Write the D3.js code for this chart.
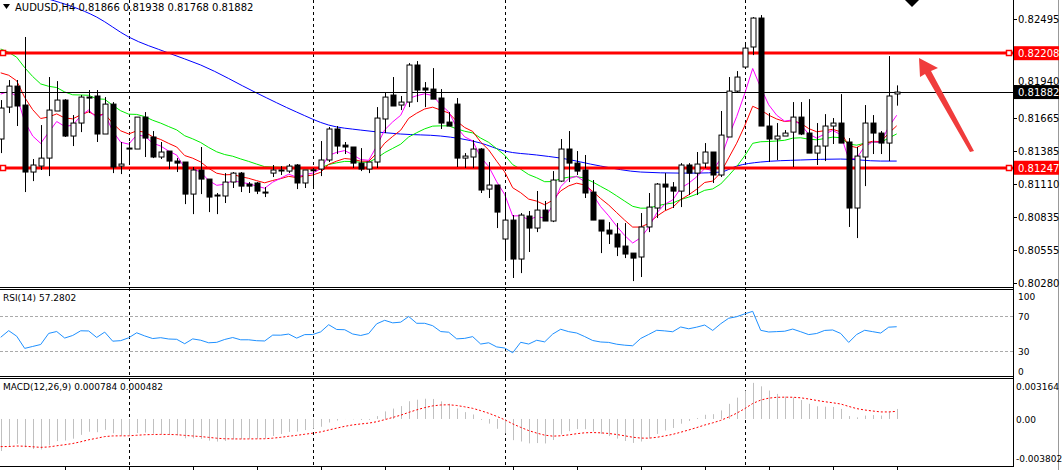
<!DOCTYPE html>
<html><head><meta charset="utf-8">
<script src="https://cdn.jsdelivr.net/npm/d3@7"></script>
<style>body{margin:0;background:#fff}svg{display:block}text{font-family:"DejaVu Sans",sans-serif}</style>
</head><body><svg id="c" width="1062" height="470"></svg>
<script>
const opens=[0.81488,0.81756,0.81932,0.81773,0.81211,0.81261,0.81328,0.81723,0.81815,0.81513,0.81622,0.81840,0.81849,0.81530,0.81781,0.81261,0.81404,0.81404,0.81672,0.81505,0.81337,0.81387,0.81303,0.81295,0.81026,0.81228,0.81152,0.81010,0.81010,0.81127,0.81202,0.81110,0.81119,0.81043,0.81202,0.81228,0.81219,0.81270,0.81119,0.81228,0.81236,0.81312,0.81572,0.81437,0.81421,0.81286,0.81236,0.81295,0.81656,0.81857,0.81773,0.81798,0.82109,0.81916,0.81907,0.81832,0.81630,0.81781,0.81328,0.81337,0.81404,0.81068,0.81102,0.80649,0.80808,0.80481,0.80842,0.80741,0.80892,0.80800,0.81135,0.81404,0.81286,0.81228,0.81043,0.80808,0.80724,0.80691,0.80590,0.80531,0.80498,0.80750,0.80909,0.81110,0.81085,0.81051,0.81270,0.81202,0.81286,0.81379,0.81186,0.81505,0.81890,0.82092,0.82260,0.82503,0.81597,0.81488,0.81513,0.81546,0.81672,0.81538,0.81370,0.81429,0.81597,0.81622,0.81463,0.80909,0.81337,0.81622,0.81538,0.81454,0.81866];
const highs=[0.81815,0.81983,0.81983,0.82344,0.81320,0.81605,0.82008,0.81974,0.81823,0.81689,0.81857,0.81899,0.81899,0.81840,0.81798,0.81463,0.81463,0.81672,0.81714,0.81555,0.81463,0.81387,0.81328,0.81295,0.81253,0.81421,0.81152,0.81035,0.81202,0.81211,0.81211,0.81127,0.81127,0.81085,0.81270,0.81261,0.81278,0.81278,0.81228,0.81245,0.81471,0.81589,0.81597,0.81463,0.81421,0.81412,0.81295,0.81756,0.81874,0.82008,0.81849,0.82125,0.82142,0.81966,0.82083,0.81907,0.81714,0.81832,0.81370,0.81479,0.81412,0.81295,0.81102,0.81035,0.80850,0.80867,0.80884,0.81052,0.80968,0.81219,0.81488,0.81555,0.81387,0.81354,0.81144,0.80808,0.80791,0.80783,0.80783,0.80531,0.80867,0.81035,0.81119,0.81202,0.81127,0.81286,0.81286,0.81379,0.81454,0.81379,0.81723,0.82008,0.82058,0.82293,0.82511,0.82528,0.81706,0.81622,0.81563,0.81798,0.81798,0.81823,0.81622,0.81697,0.81664,0.81865,0.81496,0.81421,0.81773,0.81689,0.81555,0.82184,0.81938];
const lows=[0.81370,0.81706,0.81597,0.81043,0.81135,0.81228,0.81177,0.81723,0.81505,0.81429,0.81546,0.81706,0.81463,0.81530,0.81202,0.81194,0.81286,0.81404,0.81337,0.81328,0.81320,0.81236,0.81211,0.80942,0.80858,0.81026,0.80875,0.80858,0.80951,0.81077,0.81043,0.81035,0.81026,0.81001,0.81169,0.81186,0.81202,0.81068,0.81077,0.81085,0.81177,0.81295,0.81362,0.81362,0.81245,0.81219,0.81202,0.81245,0.81538,0.81765,0.81731,0.81756,0.81798,0.81756,0.81823,0.81572,0.81597,0.81253,0.81245,0.81245,0.81035,0.80993,0.80741,0.80481,0.80322,0.80363,0.80540,0.80707,0.80800,0.80791,0.81127,0.81127,0.81186,0.80993,0.80808,0.80531,0.80607,0.80506,0.80489,0.80296,0.80330,0.80707,0.80825,0.80892,0.80909,0.80917,0.81018,0.81018,0.81245,0.81119,0.81169,0.81505,0.81874,0.82092,0.82192,0.81597,0.81295,0.81312,0.81513,0.81253,0.81521,0.81370,0.81270,0.81303,0.81446,0.81454,0.80750,0.80657,0.81093,0.81362,0.81362,0.81303,0.81768];
const closes=[0.81748,0.81932,0.81765,0.81211,0.81270,0.81328,0.81731,0.81815,0.81513,0.81622,0.81840,0.81832,0.81530,0.81781,0.81253,0.81278,0.81412,0.81672,0.81496,0.81337,0.81379,0.81303,0.81286,0.81026,0.81228,0.81152,0.81001,0.81018,0.81127,0.81202,0.81093,0.81093,0.81051,0.81040,0.81228,0.81225,0.81261,0.81119,0.81228,0.81230,0.81312,0.81572,0.81429,0.81421,0.81286,0.81236,0.81295,0.81664,0.81840,0.81765,0.81798,0.82109,0.81899,0.81899,0.81823,0.81622,0.81597,0.81328,0.81345,0.81404,0.81060,0.81102,0.80875,0.80808,0.80481,0.80850,0.80741,0.80892,0.80800,0.81144,0.81404,0.81286,0.81219,0.81035,0.80808,0.80716,0.80691,0.80582,0.80523,0.80489,0.80750,0.80917,0.81110,0.81085,0.81051,0.81270,0.81202,0.81278,0.81379,0.81186,0.81521,0.81890,0.82008,0.82251,0.82503,0.81597,0.81488,0.81513,0.81538,0.81672,0.81530,0.81370,0.81429,0.81597,0.81622,0.81454,0.80909,0.81345,0.81622,0.81538,0.81454,0.81849,0.81882];
const blueMA=[[6,0.82662],[12,0.82511],[16,0.82344],[21,0.82209],[25,0.82109],[32,0.81874],[37,0.81714],[41,0.81605],[45,0.81563],[50,0.81530],[55,0.81513],[60,0.81454],[63,0.81387],[67,0.81354],[70,0.81328],[75,0.81261],[80,0.81211],[85,0.81202],[87,0.81202],[90,0.81211],[92,0.81261],[95,0.81295],[100,0.81312],[105,0.81320],[110,0.81303],[112,0.81303]];
const priceTicks=[0.82495,0.82220,0.81940,0.81665,0.81385,0.81110,0.80835,0.80555,0.80280];
const levels=[{v:0.82208,c:"#ff0000"},{v:0.81247,c:"#ff0000"}];
const lastPrice=0.81882;
const vDash=[16,39,63,93];
const rsiTicks=[100,70,30,0];
const macdTicks=[0.003164,0,-0.003802];
const title="AUDUSD,H4  0.81866 0.81938 0.81768 0.81882";
const rsiLabel="RSI(14) 57.2802";
const macdLabel="MACD(12,26,9) 0.000784 0.000482";

const svg=d3.select("#c");
const N=closes.length, R=1013;
const x=d3.scaleLinear().domain([0,N-1]).range([0.7,896.7]);
const y=d3.scaleLinear().domain([0.80280,0.82495]).range([283,19]);
const yR=d3.scaleLinear().domain([0,100]).range([377,289.6]);
const yM=d3.scaleLinear().domain([-0.003802,0.003164]).range([467,379]);

function ema(arr,p,seed){let k=2/(p+1),e=seed;return arr.map(v=>(e=e+k*(v-e)));}
const ma5=ema(closes,5,0.81924), ma10=ema(closes,10,0.82109), ma20=ema(closes,21,0.82293);
let ag=0.00040,al=0.00048;const rsi=closes.map((c,i)=>{if(i>0){const d=c-closes[i-1];ag=(ag*13+Math.max(d,0))/14;al=(al*13+Math.max(-d,0))/14;}return 100-100/(1+ag/al);});
const e12=ema(closes,12,0.8168),e26=ema(closes,26,0.8196);
const macd=e12.map((v,i)=>v-e26[i]);
const sig=ema(macd,9,-0.0021);

const defs=svg.append("defs");
defs.append("clipPath").attr("id","cm").append("rect").attr("x",0).attr("y",0).attr("width",R).attr("height",287);

svg.append("line").attr("x1",R+0.5).attr("x2",R+0.5).attr("y1",0).attr("y2",467).attr("stroke","#000");
[[287.5,289.5],[376.5,378.5],[466.5]].forEach(a=>a.forEach(v=>svg.append("line").attr("x1",0).attr("x2",R).attr("y1",v).attr("y2",v).attr("stroke","#000")));
svg.append("line").attr("x1",1058.5).attr("x2",1058.5).attr("y1",0).attr("y2",470).attr("stroke","#999");

vDash.forEach(i=>svg.append("line").attr("x1",Math.round(x(i))+0.5).attr("x2",Math.round(x(i))+0.5).attr("y1",0).attr("y2",466).attr("stroke","#000").attr("stroke-dasharray","3,3"));
for(let i=8;i<N;i+=8)svg.append("line").attr("x1",Math.round(x(i))+0.5).attr("x2",Math.round(x(i))+0.5).attr("y1",467).attr("y2",470).attr("stroke","#000");

const m=svg.append("g").attr("clip-path","url(#cm)");
const ln=d3.line().x((d,i)=>x(i)).y(d=>y(d));
m.append("path").datum(blueMA).attr("d",d3.line().x(d=>x(d[0])).y(d=>y(d[1])).curve(d3.curveMonotoneX)).attr("fill","none").attr("stroke","#0000ff");
m.append("path").datum(ma20).attr("d",ln).attr("fill","none").attr("stroke","#00ee00");
m.append("path").datum(ma10).attr("d",ln).attr("fill","none").attr("stroke","#ff0000");
m.append("path").datum(ma5).attr("d",ln).attr("fill","none").attr("stroke","#ff00ff");
m.append("line").attr("x1",0).attr("x2",R).attr("y1",Math.round(y(lastPrice))+0.5).attr("y2",Math.round(y(lastPrice))+0.5).attr("stroke","#000");
levels.forEach(l=>{const yy=Math.round(y(l.v));
 m.append("line").attr("x1",0).attr("x2",R).attr("y1",yy).attr("y2",yy).attr("stroke",l.c).attr("stroke-width",3);
 [3,1009].forEach(xx=>m.append("rect").attr("x",xx-2.5).attr("y",yy-2.5).attr("width",5).attr("height",5).attr("fill","#fff").attr("stroke",l.c).attr("stroke-width",1.5));});
const cg=m.append("g");
closes.forEach((c,i)=>{const xx=Math.round(x(i))+0.5,o=opens[i];
 cg.append("line").attr("x1",xx).attr("x2",xx).attr("y1",y(highs[i])).attr("y2",y(lows[i])).attr("stroke","#000");
 const t=y(Math.max(o,c)),b=y(Math.min(o,c));
 cg.append("rect").attr("x",xx-2.5).attr("y",t).attr("width",5).attr("height",Math.max(b-t,1)).attr("fill",c>=o?"#fff":"#000").attr("stroke","#000");});

priceTicks.forEach(p=>{svg.append("line").attr("x1",R).attr("x2",R+4).attr("y1",Math.round(y(p))+0.5).attr("y2",Math.round(y(p))+0.5).attr("stroke","#000");
 svg.append("text").attr("x",1018).attr("y",y(p)+(p===0.81940?0:4)).attr("font-size",10).text(p.toFixed(5));});
function tag(v,bg){const yy=y(v);svg.append("rect").attr("x",R+1).attr("y",yy-7).attr("width",45).attr("height",14).attr("fill",bg);
 svg.append("text").attr("x",1018).attr("y",yy+4).attr("font-size",10).attr("fill","#fff").text(v.toFixed(5));}
levels.forEach(l=>tag(l.v,l.c)); tag(lastPrice,"#000");

svg.append("path").attr("d","M3,4 L10,4 L6.5,9 Z").attr("fill","#000");
svg.append("text").attr("x",15).attr("y",11).attr("font-size",10).text(title);
svg.append("path").attr("d","M905,0 L912,-7 L919,0 L912,7 Z").attr("fill","#000");
svg.append("path").attr("d","M919,58 L938,68 L931,71 L974,151 L970,152 L925,74 L920,77 Z").attr("fill","#f03c3c");

[70,30].forEach(v=>svg.append("line").attr("x1",0).attr("x2",R).attr("y1",Math.round(yR(v))+0.5).attr("y2",Math.round(yR(v))+0.5).attr("stroke","#aaa").attr("stroke-dasharray","3,2"));
svg.append("path").datum(rsi).attr("d",d3.line().x((d,i)=>x(i)).y(d=>yR(d))).attr("fill","none").attr("stroke","#1e90ff");
rsiTicks.forEach(v=>svg.append("text").attr("x",1018).attr("y",v==100?300:v==0?375:yR(v)+4).attr("font-size",9).text(v));
svg.append("text").attr("x",3).attr("y",301).attr("font-size",9).text(rsiLabel);

macd.forEach((v,i)=>{const xx=Math.round(x(i))+0.5;svg.append("line").attr("x1",xx).attr("x2",xx).attr("y1",yM(0)).attr("y2",yM(v)).attr("stroke","#c0c0c0");});
svg.append("path").datum(sig).attr("d",d3.line().x((d,i)=>x(i)).y(d=>yM(d))).attr("fill","none").attr("stroke","#ff0000").attr("stroke-dasharray","2,2");
macdTicks.forEach((v,i)=>svg.append("text").attr("x",1016).attr("y",i==0?390:i==1?yM(v)+4:462).attr("font-size",9).text(v==0?"0.00":v.toFixed(6)));
svg.append("text").attr("x",3).attr("y",390).attr("font-size",9).text(macdLabel);
</script></body></html>
